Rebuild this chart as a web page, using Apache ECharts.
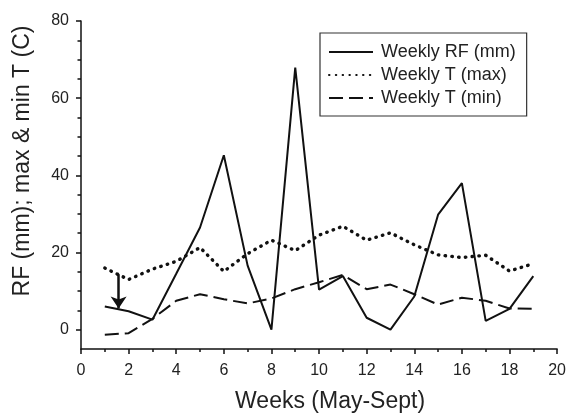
<!DOCTYPE html>
<html>
<head>
<meta charset="utf-8">
<script src="https://cdn.jsdelivr.net/npm/echarts@6/dist/echarts.min.js"></script>
<style>
  html, body { margin: 0; padding: 0; background: #fff; }
  #chart { width: 569px; height: 418px; }
</style>
</head>
<body>
<div id="chart"></div>
<script>
// weeks May-Sept
var weeks = [1, 2, 3, 4, 5, 6, 7, 8, 9, 10, 11, 12, 13, 14, 15, 16, 17, 18, 19];
var rainfall = [6.0, 4.8, 2.6, 14.5, 26.5, 45.2, 16.6, 0, 67.9, 10.4, 13.9, 3.1, 0, 8.6, 29.8, 38.0, 2.3, 5.4, 13.9];
var tMax = [16.0, 13.0, 15.7, 17.7, 21.3, 15.1, 19.7, 23.2, 20.5, 24.5, 26.8, 23.2, 25.1, 22.0, 19.4, 18.7, 19.3, 15.2, 17.1];
var tMin = [-1.3, -0.9, 2.8, 7.5, 9.2, 7.9, 6.8, 8.1, 10.5, 12.3, 14.2, 10.5, 11.7, 9.2, 6.5, 8.3, 7.5, 5.5, 5.4];
var yMajorTicks = [0, 20, 40, 60, 80];
var yMinorTicks = [5, 10, 15, 25, 30, 35, 45, 50, 55, 65, 70, 75];
var arrowFrom = [1.58, 14.4];
var arrowTo = [1.58, 5.5];

var font = '"Liberation Sans", Arial, Helvetica, sans-serif';
var ink = '#111';

function pairs(vals) {
  return weeks.map(function (w, i) { return [w, vals[i]]; });
}

var chart = echarts.init(document.getElementById('chart'));
chart.setOption({
  animation: false,
  backgroundColor: '#fff',
  textStyle: { fontFamily: font },
  grid: { left: 81, right: 10, top: 21, bottom: 64 },
  legend: {
    orient: 'vertical',
    left: 320,
    top: 33,
    padding: [10, 11, 9, 8],
    itemGap: 5,
    itemWidth: 44,
    itemHeight: 14,
    borderColor: '#333',
    borderWidth: 1.2,
    itemStyle: { opacity: 0 },
    textStyle: { fontFamily: font, fontSize: 18, color: '#222', padding: [0, 0, 0, 3] },
    data: ['Weekly RF (mm)', 'Weekly T (max)', 'Weekly T (min)']
  },
  xAxis: {
    type: 'value',
    min: 0,
    max: 20,
    interval: 2,
    name: 'Weeks (May-Sept)',
    nameLocation: 'middle',
    nameGap: 41,
    nameTextStyle: { fontFamily: font, fontSize: 23, color: '#222', padding: [0, 0, 0, 22] },
    axisLine: { onZero: false, lineStyle: { color: ink, width: 1.5 } },
    axisTick: { length: 5, lineStyle: { color: ink, width: 1.5 } },
    minorTick: { show: true, splitNumber: 2, length: 3, lineStyle: { color: ink, width: 1.5 } },
    axisLabel: { fontFamily: font, fontSize: 16, color: '#222', margin: 14 },
    splitLine: { show: false }
  },
  yAxis: [{
    type: 'value',
    min: -5,
    max: 80,
    name: 'RF (mm); max & min T (C)',
    nameLocation: 'middle',
    nameGap: 47,
    nameTextStyle: { fontFamily: font, fontSize: 23, color: '#222', padding: [0, 0, 0, 48] },
    axisLine: { show: true, lineStyle: { color: ink, width: 1.5 } },
    axisTick: { show: true, length: 5, customValues: yMajorTicks, lineStyle: { color: ink, width: 1.5 } },
    axisLabel: { fontFamily: font, fontSize: 16, color: '#222', margin: 12, customValues: yMajorTicks },
    splitLine: { show: false }
  }, {
    type: 'value',
    position: 'left',
    min: -5,
    max: 80,
    axisLine: { show: false },
    axisTick: { show: true, length: 3.5, customValues: yMinorTicks, lineStyle: { color: ink, width: 1.5 } },
    axisLabel: { show: false },
    splitLine: { show: false }
  }],
  series: [{
    name: 'Weekly RF (mm)',
    type: 'line',
    data: pairs(rainfall),
    symbol: 'none',
    color: ink,
    lineStyle: { color: ink, width: 2 },
    markLine: {
      silent: true,
      symbol: ['none', 'arrow'],
      symbolSize: 12,
      label: { show: false },
      lineStyle: { color: ink, width: 2.5, type: 'solid' },
      data: [[{ coord: arrowFrom }, { coord: arrowTo }]]
    }
  }, {
    name: 'Weekly T (max)',
    type: 'line',
    data: pairs(tMax),
    symbol: 'none',
    color: ink,
    lineStyle: { color: ink, width: 3.4, type: [0.5, 6.3], cap: 'round' }
  }, {
    name: 'Weekly T (min)',
    type: 'line',
    data: pairs(tMin),
    symbol: 'none',
    color: ink,
    lineStyle: { color: ink, width: 2, type: [14, 6] }
  }]
});
</script>
</body>
</html>
